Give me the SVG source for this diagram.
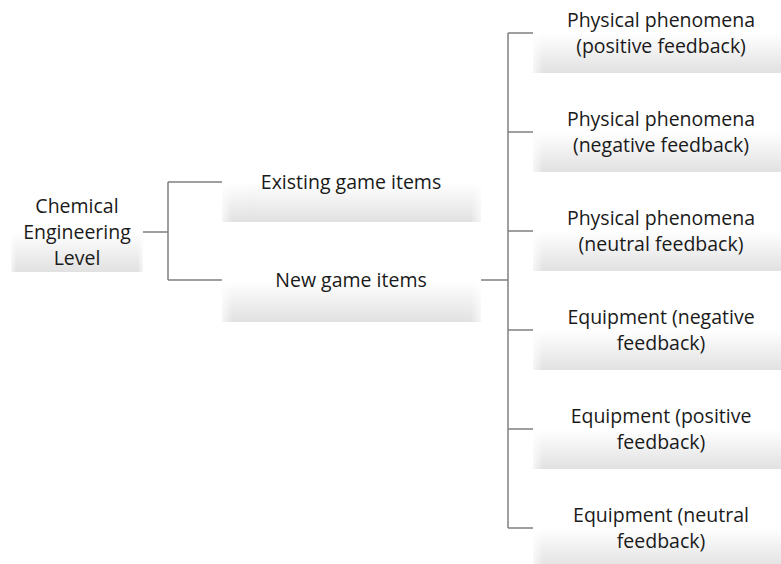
<svg xmlns="http://www.w3.org/2000/svg" width="781" height="564" viewBox="0 0 781 564">
<defs>
<linearGradient id="g" x1="0" y1="0" x2="0" y2="1">
<stop offset="0" stop-color="#ffffff"/>
<stop offset="0.5" stop-color="#ffffff"/>
<stop offset="1" stop-color="#e1e1e1"/>
</linearGradient>
<linearGradient id="h" x1="0" y1="0" x2="1" y2="0">
<stop offset="0" stop-color="#ffffff" stop-opacity="0.7"/>
<stop offset="0.04" stop-color="#ffffff" stop-opacity="0"/>
<stop offset="0.96" stop-color="#ffffff" stop-opacity="0"/>
<stop offset="1" stop-color="#ffffff" stop-opacity="0.7"/>
</linearGradient>
</defs>
<style>
.box{fill:url(#g)}
.hl{fill:url(#h)}
.t{font-family:"Open Sans","Noto Sans",sans-serif;font-size:19.5px;fill:#1a1a1a;text-anchor:middle}
.c{stroke:#808080;stroke-width:1.5;fill:none}
</style>
<rect width="781" height="564" fill="#ffffff"/>
<g id="connectors">
<path class="c" d="M143 232H168M168 182V280M168 182H222M168 280H222"/>
<path class="c" d="M481 280H508M508 33V528M508 33H533M508 132H533M508 231H533M508 330H533M508 429H533M508 528H533"/>
</g>
<g id="n0"><rect class="box" x="11" y="192" width="132" height="80"/><rect class="hl" x="11" y="192" width="132" height="80"/>
<text class="t" x="77" y="213">Chemical</text><text class="t" x="77" y="239">Engineering</text><text class="t" x="77" y="265">Level</text></g>
<g id="n1"><rect class="box" x="222" y="142" width="259" height="80"/><rect class="hl" x="222" y="142" width="259" height="80"/>
<text class="t" x="351" y="189">Existing game items</text></g>
<g id="n2"><rect class="box" x="222" y="241" width="259" height="81"/><rect class="hl" x="222" y="241" width="259" height="81"/>
<text class="t" x="351" y="287">New game items</text></g>
<g id="n3"><rect class="box" x="533" y="-7" width="260" height="80"/><rect class="hl" x="533" y="-7" width="260" height="80"/>
<text class="t" x="661" y="27">Physical phenomena</text><text class="t" x="661" y="53">(positive feedback)</text></g>
<g id="n4"><rect class="box" x="533" y="92" width="260" height="80"/><rect class="hl" x="533" y="92" width="260" height="80"/>
<text class="t" x="661" y="126">Physical phenomena</text><text class="t" x="661" y="152">(negative feedback)</text></g>
<g id="n5"><rect class="box" x="533" y="191" width="260" height="80"/><rect class="hl" x="533" y="191" width="260" height="80"/>
<text class="t" x="661" y="225">Physical phenomena</text><text class="t" x="661" y="251">(neutral feedback)</text></g>
<g id="n6"><rect class="box" x="533" y="290" width="260" height="80"/><rect class="hl" x="533" y="290" width="260" height="80"/>
<text class="t" x="661" y="324">Equipment (negative</text><text class="t" x="661" y="350">feedback)</text></g>
<g id="n7"><rect class="box" x="533" y="389" width="260" height="80"/><rect class="hl" x="533" y="389" width="260" height="80"/>
<text class="t" x="661" y="423">Equipment (positive</text><text class="t" x="661" y="449">feedback)</text></g>
<g id="n8"><rect class="box" x="533" y="488" width="260" height="80"/><rect class="hl" x="533" y="488" width="260" height="80"/>
<text class="t" x="661" y="522">Equipment (neutral</text><text class="t" x="661" y="548">feedback)</text></g>
</svg>
